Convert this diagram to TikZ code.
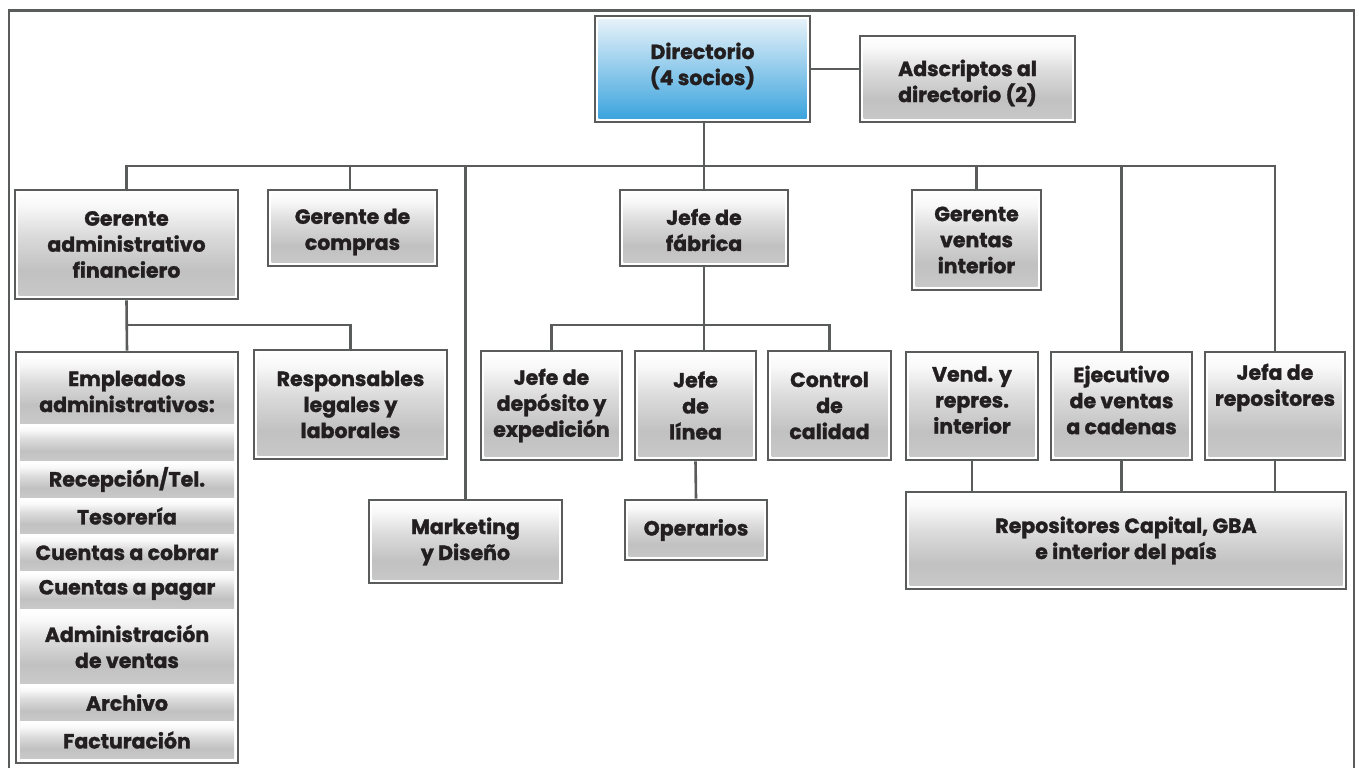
\documentclass[tikz,border=0pt]{standalone}
\usepackage{fontspec}
\setmainfont{Poppins}[BoldFeatures={FakeBold=1.4}]
\definecolor{linegray}{HTML}{5A5C5B}
\definecolor{inkcol}{HTML}{231F20}
\definecolor{gA}{HTML}{C9C9C9}
\definecolor{gB}{HTML}{C1C1C1}
\definecolor{gC}{HTML}{DCDCDC}
\definecolor{gD}{HTML}{F9F9F9}
\definecolor{bA}{HTML}{36A1DC}
\definecolor{bB}{HTML}{EBF4FB}
% grey panel shading: white at the top, grey towards the bottom
\pgfdeclareverticalshading{panelshade}{100bp}{color(0bp)=(gA); color(25bp)=(gA); color(38bp)=(gB); color(55bp)=(gC); color(68bp)=(gD); color(75bp)=(white); color(100bp)=(white)}
% blue shading of the top box
\pgfdeclareverticalshading{blueshade}{100bp}{color(0bp)=(bA); color(25bp)=(bA); color(75bp)=(bB); color(100bp)=(bB)}
\newcommand{\orgfont}{\bfseries\fontsize{20.5}{26}\selectfont}
\begin{document}
\begin{tikzpicture}[x=1pt,y=-1pt,
  boxbase/.style={draw=linegray, line width=2.6pt, fill=white, align=center,
    text=inkcol, font=\orgfont, inner sep=1pt},
  obox/.style={boxbase, path picture={\shade[shading=panelshade]
    ([shift={(3.5pt,3.5pt)}]path picture bounding box.south west) rectangle
    ([shift={(-3.5pt,-3.5pt)}]path picture bounding box.north east);}},
  dbox/.style={boxbase, path picture={\shade[shading=blueshade]
    ([shift={(3.5pt,3.5pt)}]path picture bounding box.south west) rectangle
    ([shift={(-3.5pt,-3.5pt)}]path picture bounding box.north east);}},
  strip/.style={shading=panelshade, minimum width=214pt, align=center,
    text=inkcol, font=\orgfont, inner sep=0pt},
  lbl/.style={align=center, text=inkcol, font=\orgfont, inner sep=0pt},
  link/.style={draw=linegray, line width=2.6pt},
  frame/.style={draw=linegray, line width=2.6pt}]
\useasboundingbox (0,0) rectangle (1359,768);

% outer frame
\draw[frame] (8.8,768) -- (8.8,10.5) -- (1354,10.5) -- (1354,768);

% top level
\node[dbox, minimum width=215pt, minimum height=106pt,
  label={[lbl,yshift=3pt]center:Directorio\\(4 socios)}] (dir) at (702.5,69) {};
\node[obox, minimum width=215pt, minimum height=86pt,
  label={[lbl,yshift=-4pt]center:Adscriptos al\\directorio (2)}] (ads) at (967.5,79) {};

% second level
\node[obox, minimum width=223pt, minimum height=109pt] (gaf) at (126.5,244.5) {Gerente\\administrativo\\financiero};
\node[obox, minimum width=169pt, minimum height=76pt,
  label={[lbl,yshift=-4pt]center:Gerente de\\compras}] (gco) at (352.5,228) {};
\node[obox, minimum width=168pt, minimum height=76pt,
  label={[lbl,yshift=-2pt]center:Jefe de\\fábrica}] (jfa) at (704,228) {};
\node[obox, minimum width=129pt, minimum height=100pt] (gvi) at (976.5,240) {Gerente\\ventas\\interior};

% third level
\node[boxbase, minimum width=222pt, minimum height=411pt] (emp) at (127,557.5) {};
\node[obox, minimum width=193pt, minimum height=109pt] (res) at (350.5,404.5) {Responsables\\legales y\\laborales};
\node[obox, minimum width=193pt, minimum height=83pt] (mkt) at (465.5,541.5) {Marketing\\y Diseño};
\node[obox, minimum width=141pt, minimum height=109pt] (jde) at (551.5,405.5) {Jefe de\\depósito y\\expedición};
\node[obox, minimum width=121pt, minimum height=109pt] (jli) at (695.5,405.5) {Jefe\\de\\línea};
\node[obox, minimum width=123pt, minimum height=109pt] (cca) at (829.5,405.5) {Control\\de\\calidad};
\node[obox, minimum width=142pt, minimum height=60pt] (ope) at (696,530) {Operarios};
\node[obox, minimum width=132pt, minimum height=108pt,
  label={[lbl,yshift=6pt]center:Vend. y\\repres.\\interior}] (ven) at (972,406) {};
\node[obox, minimum width=141pt, minimum height=108pt,
  label={[lbl,yshift=6pt]center:Ejecutivo\\de ventas\\a cadenas}] (eje) at (1121.5,406) {};
\node[obox, minimum width=140pt, minimum height=108pt,
  label={[lbl,yshift=18.5pt]center:Jefa de\\repositores}] (jre) at (1275,406) {};
\node[obox, minimum width=440pt, minimum height=97pt] (rep) at (1126,540.5) {Repositores Capital, GBA\\e interior del país};

% staff list inside the employees box
\node[strip, minimum height=69pt,
  label={[lbl,yshift=-3pt]center:Empleados\\administrativos:}] (e1) at (127,388.5) {};
\node[strip, minimum height=35pt] (e2) at (127,442.5) {};
\node[strip, minimum height=35pt] (e3) at (127,479.5) {Recepción/Tel.};
\node[strip, minimum height=34pt] (e4) at (127,516) {Tesorería};
\node[strip, minimum height=35pt] (e5) at (127,552.5) {Cuentas a cobrar};
\node[strip, minimum height=36pt] (e6) at (127,590) {Cuentas a pagar};
\node[strip, minimum height=73pt] (e7) at (127,646.5) {Administración\\de ventas};
\node[strip, minimum height=35pt] (e8) at (127,702.5) {Archivo};
\node[strip, minimum height=36pt] (e9) at (127,740) {Facturación};

% connectors
\coordinate (bus) at (704,166);
\coordinate (gsplit) at (126.5,325);
\coordinate (fsplit) at (704,325);

\draw[link] (dir.east) -- (dir.east -| ads.west);
\draw[link] (dir.south -| jfa.north) -- (jfa.north);
\draw[link] (gaf.north) -- (gaf.north |- bus) -| (jre.north);
\draw[link] (gco.north -| 350,0) -- (350,166);
\draw[link] (mkt.north) -- (mkt.north |- bus);
\draw[link] (gvi.north) -- (gvi.north |- bus);
\draw[link] (eje.north) -- (eje.north |- bus);

\draw[link] (gaf.south) -- (emp.north);
\draw[link] (gsplit) -| (res.north);

\draw[link] (jfa.south) -- (jfa.south |- jli.north);
\draw[link] (jde.north) |- (fsplit) -| (cca.north);
\draw[link] (jli.south) -- (ope.north);

\draw[link] (ven.south) -- (ven.south |- rep.north);
\draw[link] (eje.south) -- (eje.south |- rep.north);
\draw[link] (jre.south) -- (jre.south |- rep.north);
\end{tikzpicture}
\end{document}
